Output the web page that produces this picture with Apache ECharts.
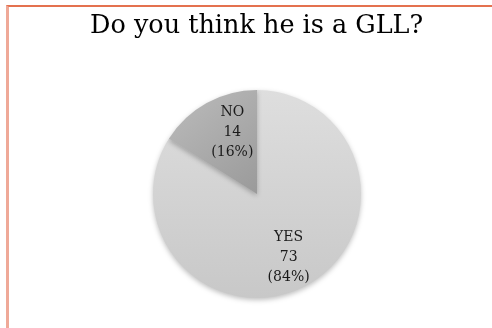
<!DOCTYPE html>
<html>
<head>
<meta charset="utf-8">
<script src="https://cdn.jsdelivr.net/npm/echarts@6/dist/echarts.min.js"></script>
<style>
html, body { margin: 0; padding: 0; background: #fff; }
#frame {
    position: absolute; left: 6px; top: 5px; width: 486px; height: 323px;
    border-top: 2px solid #e4714f; border-left: 3px solid #efa998;
    box-sizing: border-box;
}
#main { position: absolute; left: 0; top: 0; width: 492px; height: 328px; }
</style>
</head>
<body>
<div id="frame"></div>
<div id="main"></div>
<script>
// 数据
var title_text = 'Do you think he is a GLL?'
var categories = ['YES', 'NO']
var values = [73, 14]
var percents = ['84%', '16%']

var colors = [
    new echarts.graphic.LinearGradient(0, 0, 0, 1, [
        { offset: 0, color: '#dedede' },
        { offset: 1, color: '#c8c8c8' }
    ]),
    new echarts.graphic.LinearGradient(0, 0, 1, 1, [
        { offset: 0, color: '#bcbcbc' },
        { offset: 1, color: '#9a9a9a' }
    ])
]
var offsets = [[5, 15], [2, -14]]

var pie_data = []
for (var i = 0; i < categories.length; i++) {
    pie_data.push({
        name: categories[i],
        value: values[i],
        pct: percents[i],
        itemStyle: { color: colors[i] },
        label: { offset: offsets[i] }
    })
}

var myChart = echarts.init(document.getElementById('main'));
var option = {
    animation: false,
    title: {
        text: title_text,
        left: 85,
        top: 8,
        textStyle: {
            fontFamily: 'DejaVu Serif',
            fontSize: 25.5,
            fontWeight: 'normal',
            color: '#000'
        }
    },
    series: [{
        type: 'pie',
        center: [257, 194],
        radius: 104,
        startAngle: 90,
        clockwise: true,
        data: pie_data,
        itemStyle: {
            borderWidth: 0,
            shadowBlur: 5,
            shadowColor: 'rgba(0,0,0,0.25)',
            shadowOffsetY: 2
        },
        label: {
            position: 'inside',
            fontFamily: 'DejaVu Serif',
            fontSize: 14,
            lineHeight: 20,
            color: '#1a1a1a',
            formatter: function (p) {
                return p.name + '\n' + p.value + '\n(' + p.data.pct + ')'
            }
        },
        labelLine: { show: false },
        emphasis: { disabled: true }
    }]
};
myChart.setOption(option);
</script>
</body>
</html>
